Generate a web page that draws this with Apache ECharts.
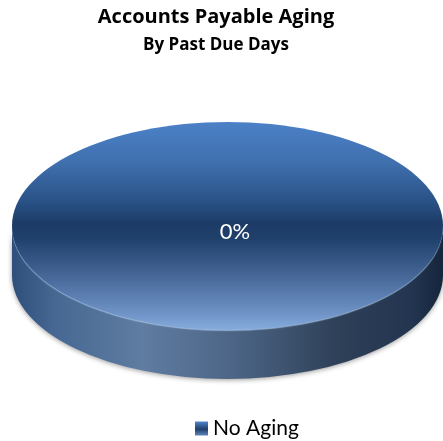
<!DOCTYPE html>
<html><head><meta charset="utf-8">
<script src="https://cdn.jsdelivr.net/npm/echarts@6/dist/echarts.min.js"></script>
<style>html,body{margin:0;padding:0;background:#fff}#c{width:443px;height:441px}</style>
</head><body><div id="c"></div>
<script>
const titleText = "Accounts Payable Aging";
const subtitleText = "By Past Due Days";
const categories = ["No Aging"];
const values = [0];
const percentLabels = ["0%"];

const FONT = "Lato, sans-serif";
const TITLE_FONT = "'Open Sans', sans-serif";
const vGrad = (s) => new echarts.graphic.LinearGradient(0, 0, 0, 1, s);
const topFace = vGrad([
  {offset: 0, color: '#4c81c7'}, {offset: 0.2, color: '#3f6fad'},
  {offset: 0.38, color: '#2a5287'}, {offset: 0.49, color: '#1c3b66'},
  {offset: 0.56, color: '#20406c'}, {offset: 0.75, color: '#48699a'},
  {offset: 0.92, color: '#6f93c6'}, {offset: 1, color: '#86abdd'}
]);
const sideFace = new echarts.graphic.LinearGradient(0, 0, 1, 0, [
  {offset: 0, color: '#2f4f7b'}, {offset: 0.1, color: '#466892'},
  {offset: 0.3, color: '#5f7ca1'}, {offset: 0.5, color: '#4e6788'},
  {offset: 0.75, color: '#2f4159'}, {offset: 0.93, color: '#22344f'},
  {offset: 1, color: '#15253c'}
]);
const legendFace = vGrad([
  {offset: 0, color: '#4f84cc'}, {offset: 0.55, color: '#1f3f6c'}, {offset: 1, color: '#5f86bd'}
]);

const cx = 227.5, cy = 226, rx = 215.5, ry = 104, depth = 49;

function renderDisc(params, api) {
  const i = params.dataIndex;
  const sidePath = `M${cx - rx} ${cy} L${cx - rx} ${cy + depth} ` +
    `A${rx} ${ry} 0 0 0 ${cx + rx} ${cy + depth} L${cx + rx} ${cy} ` +
    `A${rx} ${ry} 0 0 1 ${cx - rx} ${cy} Z`;
  return {
    type: 'group',
    children: [
      {type: 'path', shape: {pathData: sidePath},
        style: {fill: sideFace, shadowBlur: 5, shadowColor: 'rgba(0,0,0,0.4)', shadowOffsetY: 1}},
      {type: 'ellipse', shape: {cx, cy, rx, ry},
        style: {fill: topFace, shadowBlur: 1, shadowColor: 'rgba(175,205,240,0.7)', shadowOffsetY: 1}},
      {type: 'text', x: 235, y: 232,
        style: {text: percentLabels[i], fill: '#ffffff', font: `22px ${FONT}`, align: 'center', verticalAlign: 'middle'}}
    ]
  };
}

const chart = echarts.init(document.getElementById('c'), null, {renderer: 'canvas'});
chart.setOption({
  animation: false,
  backgroundColor: '#ffffff',
  title: [
    {text: titleText, left: 211, top: 2, textAlign: 'center',
      textStyle: {fontFamily: TITLE_FONT, fontSize: 20, fontWeight: 'bold', color: '#000'}},
    {text: subtitleText, left: 211, top: 32, textAlign: 'center',
      textStyle: {fontFamily: TITLE_FONT, fontSize: 17, fontWeight: 'bold', color: '#000'}}
  ],
  legend: {
    data: categories, left: 195, top: 418, icon: 'rect', itemWidth: 13, itemHeight: 14, itemGap: 5,
    textStyle: {fontFamily: FONT, fontSize: 21, color: '#000'}, padding: 0
  },
  series: [{
    type: 'custom', name: categories[0], coordinateSystem: 'none',
    itemStyle: {color: legendFace},
    renderItem: renderDisc,
    data: values.map((v, i) => ({name: categories[i], value: v}))
  }]
});
</script></body></html>
